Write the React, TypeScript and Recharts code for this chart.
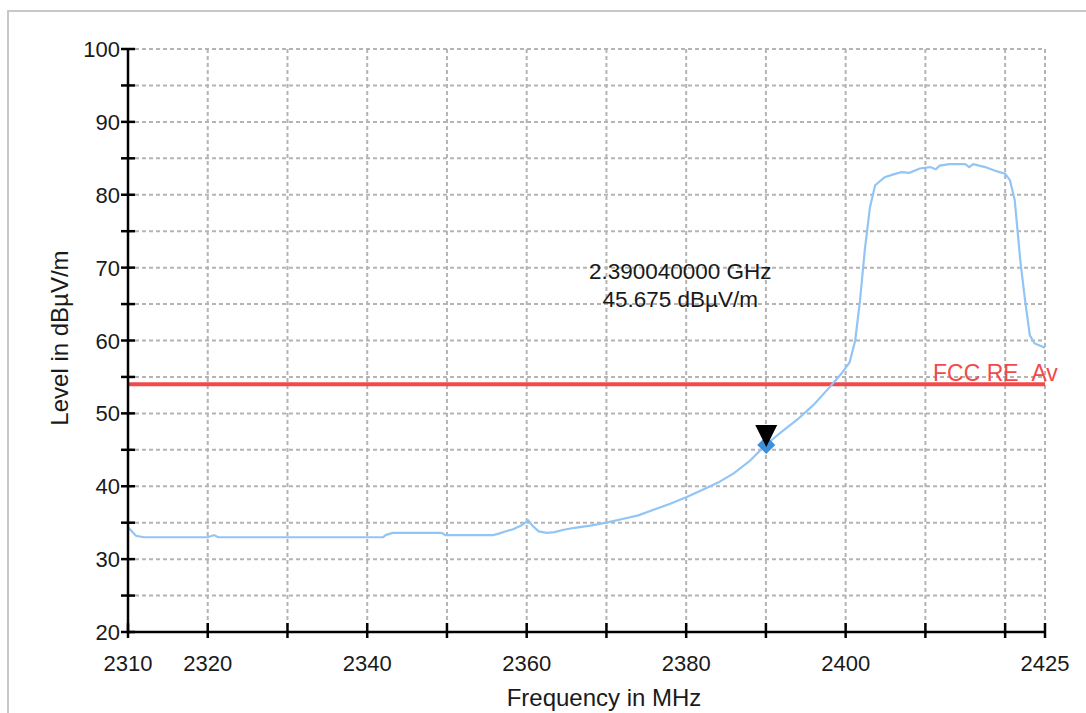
import React from "react"
import {
  ComposedChart,
  Line,
  XAxis,
  YAxis,
  CartesianGrid,
  ReferenceLine,
  ReferenceDot,
  Label,
} from "recharts"

// frequency in MHz, level in dBµV/m
const freqs = [
  2310, 2310.5, 2311, 2312, 2320, 2320.8, 2321.3, 2330, 2342, 2342.3, 2343.2,
  2349.3, 2349.8, 2355.8, 2356.5, 2357.3, 2358.3, 2359.3, 2360.2, 2360.8,
  2361.5, 2362.5, 2363.5, 2364.5, 2366, 2368, 2370, 2372, 2374, 2376, 2378,
  2380, 2382, 2384, 2386, 2388, 2390, 2392, 2394, 2396, 2398, 2399.5, 2400.5,
  2401.2, 2401.8, 2402.4, 2402.7, 2403.05, 2403.7, 2404.9, 2406, 2407, 2408,
  2409.3, 2410.6, 2411.3, 2411.8, 2413, 2415, 2415.5, 2416, 2417.5, 2419, 2420,
  2420.6, 2421.2, 2421.9, 2422.5, 2423.1, 2423.7, 2425,
]
const levels = [
  34.4, 33.8, 33.2, 33.0, 33.0, 33.3, 33.0, 33.0, 33.0, 33.3, 33.6,
  33.6, 33.3, 33.3, 33.5, 33.8, 34.1, 34.6, 35.3, 34.5,
  33.8, 33.6, 33.7, 34.0, 34.3, 34.6, 35.0, 35.5, 36.0, 36.8, 37.6,
  38.5, 39.5, 40.5, 41.8, 43.5, 45.7, 47.5, 49.2, 51.2, 53.6, 55.5, 57.0,
  60.0, 65.5, 72.4, 75.1, 78.3, 81.3, 82.4, 82.8, 83.1, 83.0,
  83.6, 83.8, 83.5, 84.0, 84.2, 84.2, 83.8, 84.2, 83.8, 83.2, 82.9,
  82.0, 79.3, 71.0, 65.5, 60.7, 59.6, 59.0,
]

const xTicks = [2310, 2320, 2330, 2340, 2350, 2360, 2370, 2380, 2390, 2400, 2410, 2420, 2425]
const xLabeled = [2310, 2320, 2340, 2360, 2380, 2400, 2425]
const yTicks = [20, 25, 30, 35, 40, 45, 50, 55, 60, 65, 70, 75, 80, 85, 90, 95, 100]
const yLabeled = [20, 30, 40, 50, 60, 70, 80, 90, 100]

const limitLevel = 54
const limitName = "FCC RE_Av"
const markerFreq = 2390.04
const markerLevel = 45.675
const markerText = ["2.390040000 GHz", "45.675 dBµV/m"]

const data = freqs.map((f, i) => ({ freq: f, level: levels[i] }))

const FONT = "'Liberation Sans', Arial, sans-serif"
const TEXT = "#1a1a1a"

function XTick(props: any) {
  const { x, y, payload } = props
  return (
    <g>
      <line x1={x} x2={x} y1={y - 9} y2={y + 6} stroke="#000" strokeWidth={2.5} />
      {xLabeled.includes(payload.value) && (
        <text x={x} y={y + 39} textAnchor="middle" fontSize={22} fill={TEXT} fontFamily={FONT}>
          {payload.value}
        </text>
      )}
    </g>
  )
}

function YTick(props: any) {
  const { x, y, payload } = props
  return (
    <g>
      <line x1={x - 7} x2={x + 7} y1={y} y2={y} stroke="#000" strokeWidth={2.5} />
      {yLabeled.includes(payload.value) && (
        <text x={x - 8} y={y + 8} textAnchor="end" fontSize={22} fill={TEXT} fontFamily={FONT}>
          {payload.value}
        </text>
      )}
    </g>
  )
}

function Marker(props: any) {
  const { cx, cy } = props
  return (
    <g>
      <polygon
        points={`${cx},${cy - 9} ${cx + 9},${cy} ${cx},${cy + 9} ${cx - 9},${cy}`}
        fill="#3d8fdc"
      />
      <polygon
        points={`${cx - 11},${cy - 20} ${cx + 11},${cy - 20} ${cx},${cy + 2}`}
        fill="#000"
      />
      <text x={cx - 86} y={cy - 166} textAnchor="middle" fontSize={22.5} fill={TEXT} fontFamily={FONT}>
        {markerText[0]}
      </text>
      <text x={cx - 86} y={cy - 138} textAnchor="middle" fontSize={22.5} fill={TEXT} fontFamily={FONT}>
        {markerText[1]}
      </text>
    </g>
  )
}

function LimitLabel(props: any) {
  const { viewBox } = props
  return (
    <text
      x={viewBox.x + viewBox.width - 112}
      y={viewBox.y - 3}
      fontSize={23}
      fill="#f24a4a"
      fontFamily={FONT}
    >
      {limitName}
    </text>
  )
}

export default function App() {
  return (
    <div style={{ position: "fixed", left: 0, top: 0, width: 1086, height: 713, background: "#fff", overflow: "hidden" }}>
      <div
        style={{
          position: "absolute",
          left: 7,
          top: 10,
          width: 1200,
          height: 800,
          borderTop: "2px solid #c8c8c8",
          borderLeft: "2px solid #c8c8c8",
        }}
      />
      <div style={{ position: "absolute", left: 0, top: 0 }}>
        <ComposedChart
          width={1086}
          height={713}
          data={data}
          margin={{ top: 49, right: 41, bottom: 0, left: 0 }}
          style={{ overflow: "visible" }}
        >
          <CartesianGrid stroke="#b4b4b4" strokeWidth={2} strokeDasharray="4 3" />
          <XAxis
            dataKey="freq"
            type="number"
            domain={[2310, 2425]}
            ticks={xTicks}
            interval={0}
            height={81}
            tickSize={0}
            tickMargin={0}
            tickLine={false}
            tick={<XTick />}
            axisLine={{ stroke: "#000", strokeWidth: 2.5 }}
            allowDataOverflow
          >
            <Label
              content={() => (
                <text x={604} y={706} textAnchor="middle" fontSize={24} fill={TEXT} fontFamily={FONT}>
                  Frequency in MHz
                </text>
              )}
            />
          </XAxis>
          <YAxis
            type="number"
            domain={[20, 100]}
            ticks={yTicks}
            interval={0}
            width={128}
            tickSize={0}
            tickMargin={0}
            tickLine={false}
            tick={<YTick />}
            axisLine={{ stroke: "#000", strokeWidth: 2.5 }}
            allowDataOverflow
          >
            <Label
              content={() => (
                <text
                  x={68}
                  y={338}
                  textAnchor="middle"
                  fontSize={24}
                  fill={TEXT}
                  fontFamily={FONT}
                  transform="rotate(-90 68 338)"
                >
                  Level in dBµV/m
                </text>
              )}
            />
          </YAxis>
          <ReferenceLine
            y={limitLevel}
            stroke="#f24a4a"
            strokeWidth={4}
            label={<LimitLabel />}
          />
          <Line
            dataKey="level"
            type="linear"
            stroke="#92c5f5"
            strokeWidth={2.2}
            dot={false}
            isAnimationActive={false}
          />
          <ReferenceDot x={markerFreq} y={markerLevel} shape={<Marker />} ifOverflow="visible" />
        </ComposedChart>
      </div>
    </div>
  )
}
